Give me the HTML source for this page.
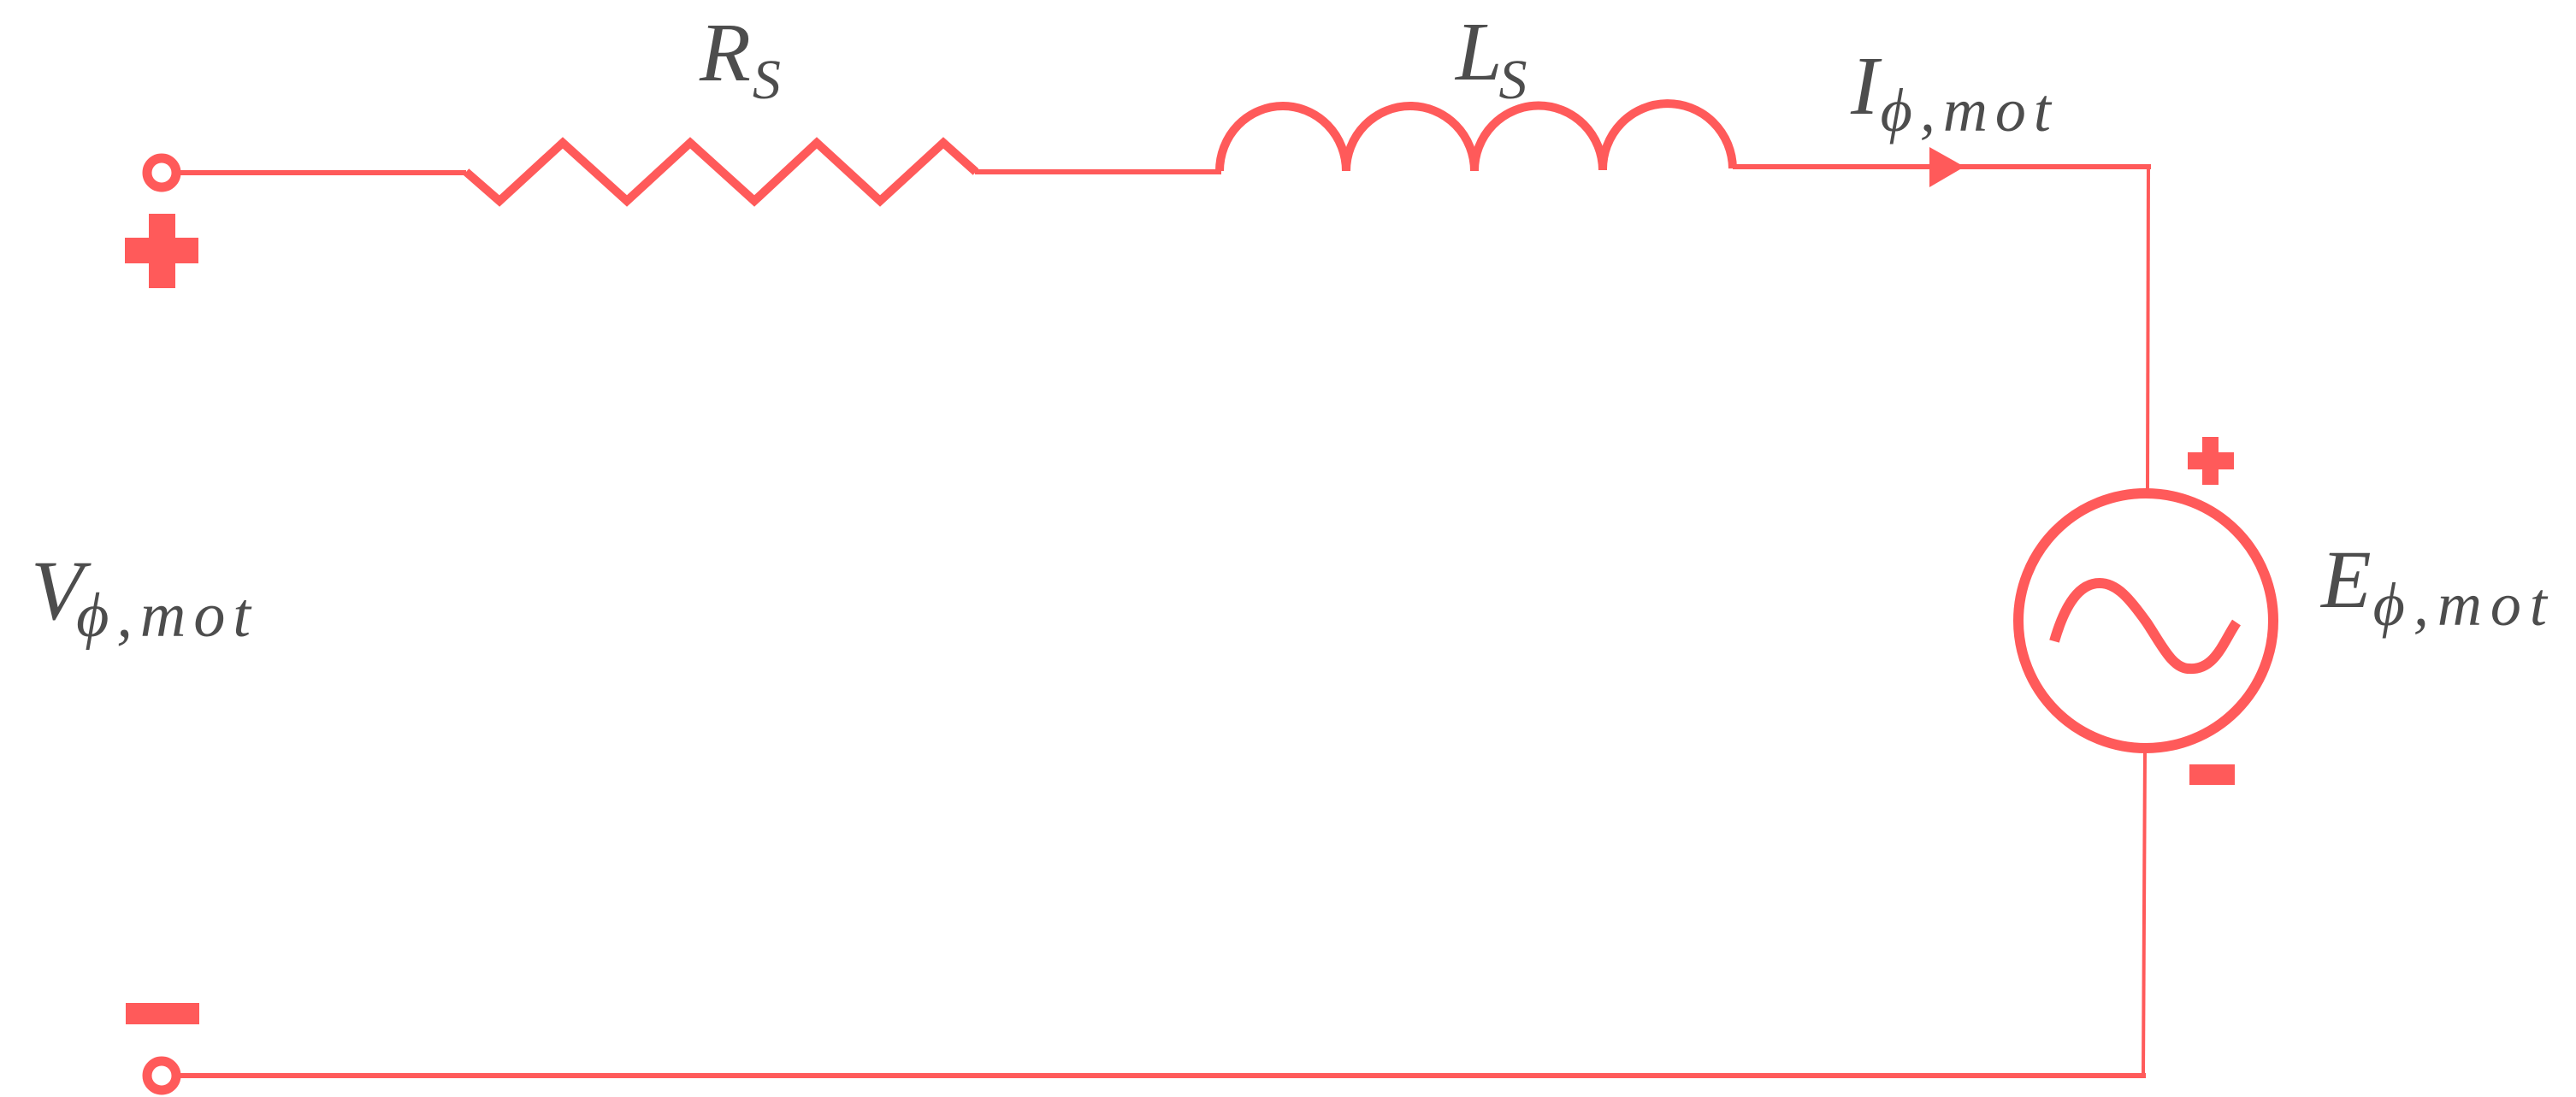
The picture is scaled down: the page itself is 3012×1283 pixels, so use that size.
<!DOCTYPE html>
<html>
<head>
<meta charset="utf-8">
<style>
  html,body{margin:0;padding:0;background:#fff;}
  svg{display:block;}
  text{font-family:"Liberation Serif",serif;font-style:italic;fill:#4d4d4d;}
</style>
</head>
<body>
<svg width="3012" height="1283" viewBox="0 0 3012 1283" xmlns="http://www.w3.org/2000/svg">
  <rect x="0" y="0" width="3012" height="1283" fill="#fff"/>
  <g stroke="#ff5a5a" fill="none" stroke-linejoin="miter">
    <circle cx="189" cy="202" r="17" stroke-width="11"/>
    <line x1="206" y1="202" x2="545" y2="202" stroke-width="6"/>
    <polyline points="545,201 584,235 658,167 733,235 807,167 882,235 955,167 1029,235 1103,167 1141,201" stroke-width="10"/>
    <line x1="1140" y1="201" x2="1428" y2="201" stroke-width="6"/>
    <path d="M1426,200 A74,76 0 0 1 1574,200 A75,76 0 0 1 1724,200 A75,76 0 0 1 1874,199 A76,77 0 0 1 2026,197" stroke-width="10"/>
    <line x1="2026" y1="195" x2="2515" y2="195" stroke-width="6"/>
    <line x1="2512" y1="192" x2="2511" y2="573" stroke-width="4"/>
    <circle cx="2509" cy="726" r="149" stroke-width="12"/>
    <path d="M2402,750 C2415,705 2432,682 2455,682 C2475,682 2490,700 2510,728 C2528,755 2540,782 2560,782 C2590,784 2600,750 2615,728" stroke-width="12"/>
    <line x1="2508" y1="878" x2="2506" y2="1256" stroke-width="4"/>
    <circle cx="189" cy="1258" r="17" stroke-width="11"/>
    <line x1="206" y1="1258" x2="2509" y2="1258" stroke-width="6"/>
  </g>
  <g fill="#ff5a5a" stroke="none">
    <polygon points="2256,172 2297,195 2256,219"/>
    <rect x="174" y="250" width="31" height="87"/>
    <rect x="146" y="278" width="86" height="30"/>
    <rect x="147" y="1173" width="86" height="25"/>
    <rect x="2575" y="511" width="19" height="56"/>
    <rect x="2558" y="529" width="54" height="20"/>
    <rect x="2560" y="894" width="53" height="24"/>
  </g>
  <text x="818" y="94" font-size="98">R<tspan font-size="66" dy="21" dx="2">S</tspan></text>
  <text x="1702" y="93" font-size="98">L<tspan font-size="66" dy="22" dx="-4">S</tspan></text>
  <text x="2164" y="133" font-size="98">I<tspan font-size="72" dy="20" dx="2" letter-spacing="9">ϕ,mot</tspan></text>
  <text x="36" y="724" font-size="100">V<tspan font-size="74" dy="20" dx="-8" letter-spacing="9">ϕ,mot</tspan></text>
  <text x="2714" y="710" font-size="96">E<tspan font-size="72" dy="21" dx="2" letter-spacing="10">ϕ,mot</tspan></text>
</svg>
</body>
</html>
